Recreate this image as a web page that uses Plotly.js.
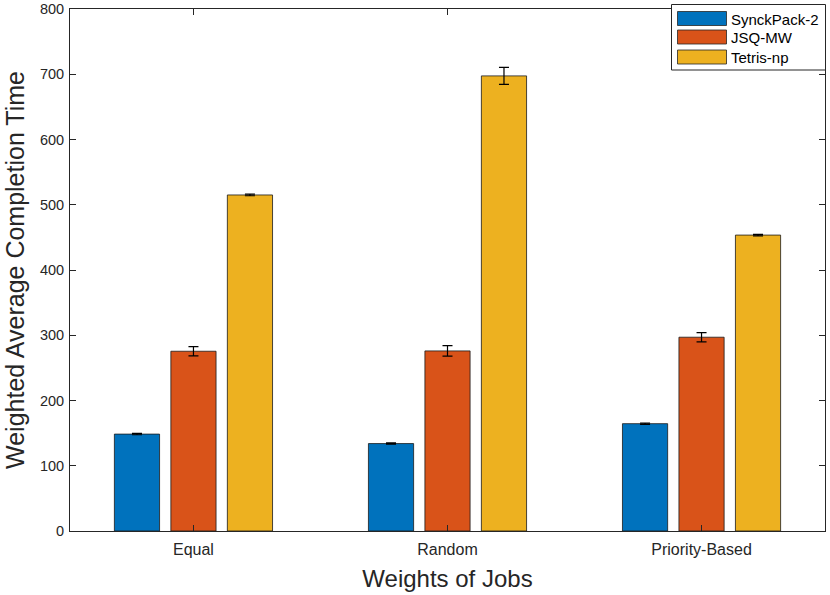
<!DOCTYPE html>
<html>
<head>
<meta charset="utf-8">
<script src="https://cdn.plot.ly/plotly-3.0.1.min.js"></script>
<style>html,body{margin:0;padding:0;background:#fff;}#chart{width:830px;height:595px;}</style>
</head>
<body>
<div id="chart"></div>
<script>
const categories = ["Equal", "Random", "Priority-Based"];
const seriesNames = ["SynckPack-2", "JSQ-MW", "Tetris-np"];
const synckPack = [148.5, 134, 164.5];
const synckPackErr = [1, 1, 1];
const jsqMW = [275.5, 276, 297];
const jsqMWErr = [7, 8, 7];
const tetris = [515, 697.5, 453.5];
const tetrisErr = [1.2, 13, 1.2];
const colors = ["#0072BD", "#D95319", "#EDB120"];
const yTicks = [0, 100, 200, 300, 400, 500, 600, 700, 800];

const FONT = "Liberation Sans, Arial, Helvetica, sans-serif";
const values = [synckPack, jsqMW, tetris];
const errs = [synckPackErr, jsqMWErr, tetrisErr];
const traces = values.map((v, i) => ({
  type: "bar",
  name: seriesNames[i],
  x: categories,
  y: v,
  marker: {color: colors[i], line: {color: "#1a1a1a", width: 0.8}},
  error_y: {type: "data", array: errs[i], visible: true, color: "#000", thickness: 1.2, width: 5}
}));

// Plot-area geometry in pixels (used only to place the MATLAB-style legend box)
const W = 830, H = 595, ML = 70, MR = 5, MT = 9, MB = 64;
const PW = W - ML - MR, PH = H - MT - MB;
const px = x => (x - ML) / PW;
const py = y => (H - MB - y) / PH;

const shapes = [];
const annotations = [];
// legend box
shapes.push({type: "rect", xref: "paper", yref: "paper",
  x0: px(671.5), x1: px(825.5), y0: py(70), y1: py(4.5),
  line: {color: "#262626", width: 1}, fillcolor: "#fff", layer: "above"});
const rowTop = [11.5, 30, 50];
seriesNames.forEach((name, i) => {
  shapes.push({type: "rect", xref: "paper", yref: "paper",
    x0: px(677.5), x1: px(726.5), y0: py(rowTop[i] + 14), y1: py(rowTop[i]),
    line: {color: "#262626", width: 0.8}, fillcolor: colors[i], layer: "above"});
  annotations.push({xref: "paper", yref: "paper", x: px(729), y: py(rowTop[i] + 7.5),
    xanchor: "left", yanchor: "middle", showarrow: false, text: name,
    font: {family: FONT, size: 15, color: "#000"}});
});

const layout = {
  width: W, height: H,
  margin: {l: ML, r: MR, t: MT, b: MB},
  paper_bgcolor: "#fff", plot_bgcolor: "#fff",
  barmode: "group", bargap: 0.333, bargroupgap: 0.2,
  font: {family: FONT, color: "#262626"},
  showlegend: false,
  xaxis: {
    type: "category",
    range: [-0.486, 2.486],
    showgrid: false, zeroline: false,
    showline: true, linecolor: "#262626", linewidth: 1, mirror: "ticks",
    ticks: "inside", ticklen: 6, tickcolor: "#262626",
    tickfont: {family: FONT, size: 16, color: "#262626"},
    ticklabelstandoff: 4,
    title: {text: "Weights of Jobs", font: {family: FONT, size: 24, color: "#262626"}, standoff: 12}
  },
  yaxis: {
    range: [0, 800],
    tickvals: yTicks,
    ticklabeloverflow: "allow",
    showgrid: false, zeroline: false,
    showline: true, linecolor: "#262626", linewidth: 1, mirror: "ticks",
    ticks: "inside", ticklen: 6, tickcolor: "#262626",
    tickfont: {family: FONT, size: 14.5, color: "#262626"},
    ticklabelstandoff: 2,
    title: {text: "Weighted Average Completion Time", font: {family: FONT, size: 25, color: "#262626"}, standoff: 8}
  },
  shapes: shapes,
  annotations: annotations
};

Plotly.newPlot("chart", traces, layout, {displayModeBar: false, staticPlot: true});
</script>
</body>
</html>
